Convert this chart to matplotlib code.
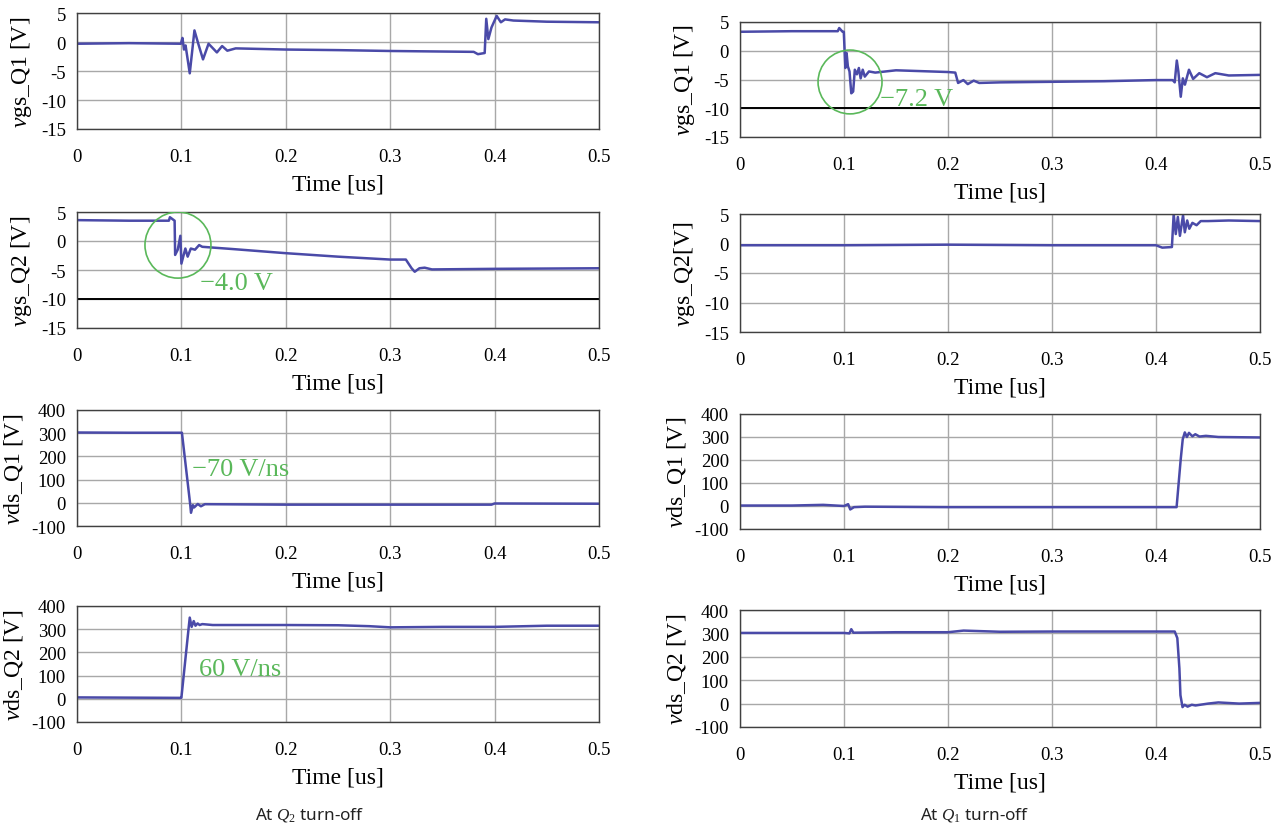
import matplotlib
matplotlib.use("Agg")
import matplotlib.pyplot as plt
from matplotlib.patches import Ellipse

plt.rcParams['font.family'] = ['Liberation Serif', 'DejaVu Serif']
plt.rcParams['mathtext.fontset'] = 'custom'
plt.rcParams['mathtext.rm'] = 'Liberation Serif'
plt.rcParams['mathtext.it'] = 'Liberation Serif:italic'
plt.rcParams['axes.unicode_minus'] = False

# ---------------- data ----------------
x_ticks = [0, 0.1, 0.2, 0.3, 0.4, 0.5]
x_tick_labels = ["0", "0.1", "0.2", "0.3", "0.4", "0.5"]
vgs_ticks = [-15, -10, -5, 0, 5]
vds_ticks = [-100, 0, 100, 200, 300, 400]

# Left column: at Q2 turn-off
t_L_vgsQ1 = [0, 0.05, 0.0995, 0.101, 0.1025, 0.104, 0.108, 0.1125, 0.116, 0.1207, 0.126,
             0.134, 0.139, 0.144, 0.152, 0.2, 0.25, 0.3, 0.38, 0.384, 0.3905, 0.392, 0.394,
             0.397, 0.402, 0.406, 0.41, 0.418, 0.45, 0.5]
v_L_vgsQ1 = [-0.3, -0.2, -0.3, 0.7, -1.3, -0.6, -5.4, 2.0, -0.2, -3.0, -0.3,
             -1.8, -0.7, -1.5, -1.1, -1.3, -1.4, -1.55, -1.7, -2.1, -1.9, 4.0, 0.5,
             2.5, 4.5, 3.4, 3.9, 3.7, 3.5, 3.4]

t_L_vgsQ2 = [0, 0.05, 0.088, 0.089, 0.0935, 0.094, 0.0965, 0.099, 0.1, 0.1038, 0.106,
             0.109, 0.113, 0.117, 0.12, 0.15, 0.2, 0.25, 0.3, 0.315, 0.3205, 0.3235,
             0.328, 0.333, 0.34, 0.4, 0.5]
v_L_vgsQ2 = [3.6, 3.5, 3.5, 4.1, 3.5, -2.4, -1.5, 0.9, -3.9, -1.3, -2.7,
             -1.3, -1.5, -0.7, -1.0, -1.4, -2.1, -2.7, -3.2, -3.2, -4.7, -5.3,
             -4.7, -4.6, -4.9, -4.8, -4.7]

t_L_vdsQ1 = [0, 0.05, 0.1005, 0.1085, 0.1092, 0.111, 0.1122, 0.1157, 0.1187, 0.1225,
             0.2, 0.3, 0.397, 0.4, 0.5]
v_L_vdsQ1 = [303, 302, 302, -10, -43, -10, -20, -5, -15, -6,
             -8, -8, -8, -3, -4]

t_L_vdsQ2 = [0, 0.05, 0.099, 0.1, 0.1068, 0.108, 0.1098, 0.1118, 0.1135, 0.1155, 0.1175,
             0.12, 0.13, 0.2, 0.25, 0.28, 0.3, 0.35, 0.4, 0.45, 0.5]
v_L_vdsQ2 = [6, 5, 4, 5, 300, 350, 310, 335, 315, 325, 318,
             322, 318, 318, 317, 313, 308, 310, 310, 315, 315]

# Right column: at Q1 turn-off
t_R_vgsQ1 = [0, 0.05, 0.094, 0.0954, 0.0986, 0.0998, 0.1013, 0.1025, 0.1037, 0.1053,
             0.107, 0.1088, 0.1104, 0.1124, 0.1143, 0.116, 0.118, 0.12, 0.124, 0.13,
             0.15, 0.2, 0.207, 0.2097, 0.2148, 0.219, 0.2247, 0.23, 0.25, 0.3, 0.35,
             0.4, 0.416, 0.418, 0.42, 0.4215, 0.4238, 0.4258, 0.4278, 0.4317, 0.4357,
             0.4416, 0.449, 0.457, 0.47, 0.5]
v_R_vgsQ1 = [3.3, 3.4, 3.4, 3.95, 3.3, 3.3, -3.0, -0.4, -2.7, -3.6,
             -7.4, -7.1, -3.3, -4.1, -3.0, -4.8, -3.3, -4.5, -3.6, -3.8,
             -3.4, -3.7, -3.8, -5.6, -5.1, -5.8, -5.2, -5.6, -5.5, -5.4, -5.3,
             -5.1, -5.1, -5.5, -1.7, -3.6, -8.0, -4.8, -5.9, -3.3, -4.9,
             -3.9, -4.6, -3.9, -4.3, -4.2]

t_R_vgsQ2 = [0, 0.1, 0.2, 0.3, 0.4, 0.406, 0.4153, 0.417, 0.419, 0.421, 0.423, 0.426,
             0.4277, 0.43, 0.432, 0.435, 0.439, 0.443, 0.45, 0.47, 0.5]
v_R_vgsQ2 = [-0.3, -0.3, -0.2, -0.3, -0.3, -0.7, -0.6, 5.0, 1.6, 4.5, 1.3, 4.8,
             1.9, 3.9, 2.5, 3.5, 3.1, 3.8, 3.8, 3.9, 3.8]

t_R_vdsQ1 = [0, 0.05, 0.08, 0.1, 0.104, 0.106, 0.1096, 0.12, 0.2, 0.3, 0.4198, 0.4237,
             0.4257, 0.4277, 0.4297, 0.4317, 0.435, 0.4378, 0.4418, 0.448, 0.46, 0.5]
v_R_vdsQ1 = [2, 2, 5, 0, 8, -15, -5, -3, -5, -5, -5, 200,
             290, 320, 300, 318, 303, 312, 302, 305, 300, 298]

t_R_vdsQ2 = [0, 0.05, 0.1, 0.1052, 0.107, 0.109, 0.15, 0.2, 0.215, 0.25, 0.3, 0.4, 0.418,
             0.4205, 0.4225, 0.4235, 0.4255, 0.4275, 0.4304, 0.4344, 0.438, 0.45,
             0.46, 0.48, 0.5]
v_R_vdsQ2 = [302, 302, 302, 300, 318, 303, 305, 305, 312, 307, 308, 308, 308,
             280, 150, 36, -15, -5, -13, -5, -8, 0,
             5, 0, 3]

threshold_vgs = -10

L_x0, L_w = 77 / 1285, 522 / 1285
R_x0, R_w = 740 / 1285, 520 / 1285
H = 828

def box(x0, w, top, bot):
    return [x0, 1 - bot / H, w, (bot - top) / H]

panels = [
    (box(L_x0, L_w, 14, 130), t_L_vgsQ1, v_L_vgsQ1, r"$\mathit{v}$gs_Q1 [V]", "vgs", False),
    (box(L_x0, L_w, 213, 329), t_L_vgsQ2, v_L_vgsQ2, r"$\mathit{v}$gs_Q2 [V]", "vgs", True),
    (box(L_x0, L_w, 411, 527), t_L_vdsQ1, v_L_vdsQ1, r"$\mathit{v}$ds_Q1 [V]", "vds", False),
    (box(L_x0, L_w, 607, 723), t_L_vdsQ2, v_L_vdsQ2, r"$\mathit{v}$ds_Q2 [V]", "vds", False),
    (box(R_x0, R_w, 23, 138), t_R_vgsQ1, v_R_vgsQ1, r"$\mathit{v}$gs_Q1 [V]", "vgs", True),
    (box(R_x0, R_w, 215, 333), t_R_vgsQ2, v_R_vgsQ2, r"$\mathit{v}$gs_Q2[V]", "vgs", False),
    (box(R_x0, R_w, 415, 530), t_R_vdsQ1, v_R_vdsQ1, r"$\mathit{v}$ds_Q1 [V]", "vds", False),
    (box(R_x0, R_w, 611, 728), t_R_vdsQ2, v_R_vdsQ2, r"$\mathit{v}$ds_Q2 [V]", "vds", False),
]

line_color = "#4a4aa8"
green = "#5ab85a"

fig = plt.figure(figsize=(12.85, 8.28), dpi=100)
axes = []
for rect, t, v, ylab, kind, thr in panels:
    ax = fig.add_axes(rect)
    ax.plot(t, v, color=line_color, lw=1.8, solid_joinstyle='round')
    ax.set_xlim(0, 0.5)
    ax.set_xticks(x_ticks)
    ax.set_xticklabels(x_tick_labels)
    if kind == "vgs":
        ax.set_ylim(-15, 5)
        ax.set_yticks(vgs_ticks)
    else:
        ax.set_ylim(-100, 400)
        ax.set_yticks(vds_ticks)
    ax.grid(True, color="#a8a8a8", lw=1.0)
    ax.set_axisbelow(True)
    if thr:
        ax.axhline(threshold_vgs, color="black", lw=1.4, zorder=1.5)
    for s in ax.spines.values():
        s.set_color("#404040")
        s.set_linewidth(1.0)
    ax.tick_params(length=0, labelsize=13.5, pad=8)
    ax.tick_params(axis='x', pad=14)
    ax.set_xlabel("Time [us]", fontsize=17, labelpad=6)
    ax.set_ylabel(ylab, fontsize=17, labelpad=5)
    axes.append(ax)

# annotations
axL2 = axes[1]
axL2.add_patch(Ellipse((0.0967, -0.7), 0.0632, 11.4, fill=False, ec=green, lw=1.2, zorder=4))
axL2.text(0.1178, -7.3, "\u22124.0 V", color=green, fontsize=19, va="center", ha="left")

axes[2].text(0.110, 146, "\u221270 V/ns", color=green, fontsize=19, va="center", ha="left")
axes[3].text(0.1169, 128, "60 V/ns", color=green, fontsize=19, va="center", ha="left")

axR1 = axes[4]
axR1.add_patch(Ellipse((0.1058, -5.43), 0.0615, 11.1, fill=False, ec=green, lw=1.2, zorder=4))
axR1.text(0.1346, -8.4, "\u22127.2 V", color=green, fontsize=19, va="center", ha="left")

# captions
fig.text(310 / 1285, 1 - 815 / H, r"At $\mathit{Q}_2$ turn-off", fontsize=12.3,
         family=['Noto Sans', 'DejaVu Sans'], ha="center", va="center", color="#222222")
fig.text(975 / 1285, 1 - 815 / H, r"At $\mathit{Q}_1$ turn-off", fontsize=12.3,
         family=['Noto Sans', 'DejaVu Sans'], ha="center", va="center", color="#222222")

fig.savefig("out.png", dpi=100)
